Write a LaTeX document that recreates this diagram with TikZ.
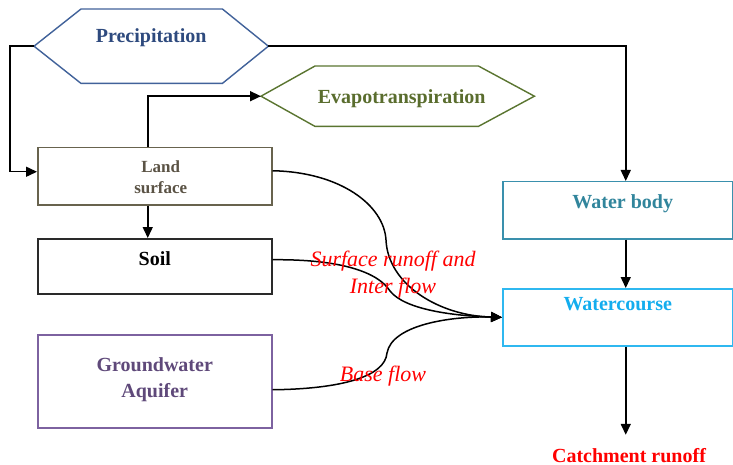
\documentclass[tikz,border=0pt]{standalone}
\usepackage{fontspec}
\setmainfont{Liberation Serif}
\usetikzlibrary{arrows.meta,calc}
\definecolor{precline}{HTML}{41629A}
\definecolor{prectext}{HTML}{2E4A7E}
\definecolor{evapline}{HTML}{5A7530}
\definecolor{evaptext}{HTML}{5A6D2E}
\definecolor{landline}{HTML}{68634E}
\definecolor{landtext}{HTML}{5B5345}
\definecolor{wbline}{HTML}{3A90AD}
\definecolor{wbtext}{HTML}{31859C}
\definecolor{wcline}{HTML}{2FB8F0}
\definecolor{wctext}{HTML}{13ADEE}
\definecolor{gwline}{HTML}{7D62A0}
\definecolor{gwtext}{HTML}{5F497A}
\definecolor{soilline}{HTML}{2A2A2A}
\tikzset{
  boxnode/.style={draw, rectangle, inner sep=0pt, anchor=north west, line width=1.5pt,
    font=\fontsize{20}{24}\selectfont\bfseries},
  hexnode/.style={rectangle, inner sep=0pt, anchor=north west,
    font=\fontsize{20}{24}\selectfont\bfseries},
  hexline/.style={line width=1.4pt, line join=miter},
  conn/.style={line width=1.5pt, black, -{Triangle[length=11pt,width=10pt]}},
  flowlbl/.style={text=red, font=\fontsize{22}{27}\selectfont\itshape, inner sep=0pt, anchor=base}
}
\begin{document}
\begin{tikzpicture}[x=1pt,y=-1pt]
\fill[white] (0,0) rectangle (733,465);
\useasboundingbox (0,0) rectangle (733,465);

% hexagons
\node[hexnode, text=prectext, minimum width=234pt, text height=33pt, text depth=41pt] (prec) at (34,9) {Precipitation};
\draw[hexline, precline] (prec.west) -- ([xshift=47pt]prec.north west) -- ([xshift=-46pt]prec.north east) -- (prec.east) -- ([xshift=-46pt]prec.south east) -- ([xshift=47pt]prec.south west) -- cycle;

\node[hexnode, text=evaptext, minimum width=273pt, text height=37pt, text depth=23pt] (evap) at (261,66) {\hspace{8pt}Evapotranspiration};
\draw[hexline, evapline] (evap.west) -- ([xshift=54pt]evap.north west) -- ([xshift=-56pt]evap.north east) -- (evap.east) -- ([xshift=-56pt]evap.south east) -- ([xshift=54pt]evap.south west) -- cycle;

% left boxes
\node[boxnode, draw=landline, text=landtext, minimum width=234pt, text height=25pt, text depth=32pt,
  font=\fontsize{17}{21}\selectfont\bfseries] (land) at (37,147)
  {\hspace{12pt}\begin{tabular}[t]{@{}c@{}}Land\\surface\end{tabular}};
\node[boxnode, draw=soilline, text=black, minimum width=234pt, text height=27pt, text depth=28pt] (soil) at (37,238) {Soil};
\node[boxnode, draw=gwline, text=gwtext, minimum width=234pt, text height=37pt, text depth=56pt,
  font=\fontsize{20}{26}\selectfont\bfseries] (gw) at (37,334)
  {\begin{tabular}[t]{@{}c@{}}Groundwater\\Aquifer\end{tabular}};

% right boxes
\node[boxnode, draw=wbline, text=wbtext, minimum width=230pt, text height=27pt, text depth=30pt] (wb) at (502,181) {\hspace{10pt}Water body};
\node[boxnode, draw=wcline, text=wctext, minimum width=230pt, text height=22pt, text depth=35pt] (wc) at (502,288) {Watercourse};

\node[text=red, inner sep=0pt, anchor=base, text height=14pt, font=\fontsize{20}{24}\selectfont\bfseries] (catch) at (629,462) {Catchment runoff};

% straight connectors
\draw[conn] (prec.west) -- ++(-24,0) |- ([yshift=4.5pt]land.west);
\draw[conn] (prec.east) -| ([xshift=8pt]wb.north);
\draw[conn] ([xshift=-7pt]land.north) |- (evap.west);
\draw[conn] ([xshift=-7pt]land.south) -- ([xshift=-7pt]soil.north);
\draw[conn] ([xshift=8pt]wb.south) -- ([xshift=8pt]wc.north);
\draw[conn, shorten >=13pt] ([xshift=8pt]wc.south) -- ([xshift=8pt]wc.south |- catch.north);

% curved flows
\draw[conn] ([yshift=5.5pt]land.east) .. controls (340,172) and (384,205) .. (386,240) .. controls (388,285) and (440,316) .. (wc.west);
\draw[conn] ([yshift=6.5pt]soil.east) .. controls (340,259) and (378,272) .. (390,291) .. controls (405,310) and (455,316) .. (wc.west);
\draw[conn] ([yshift=-8.5pt]gw.east) .. controls (340,389) and (385,377) .. (387,353) .. controls (392,325) and (450,316) .. (wc.west);

% flow labels
\node[flowlbl] (surf) at (393,266) {\begin{tabular}[t]{@{}c@{}}Surface runoff and\\Inter flow\end{tabular}};
\node[flowlbl] (base) at (383,381) {Base flow};
\end{tikzpicture}
\end{document}
